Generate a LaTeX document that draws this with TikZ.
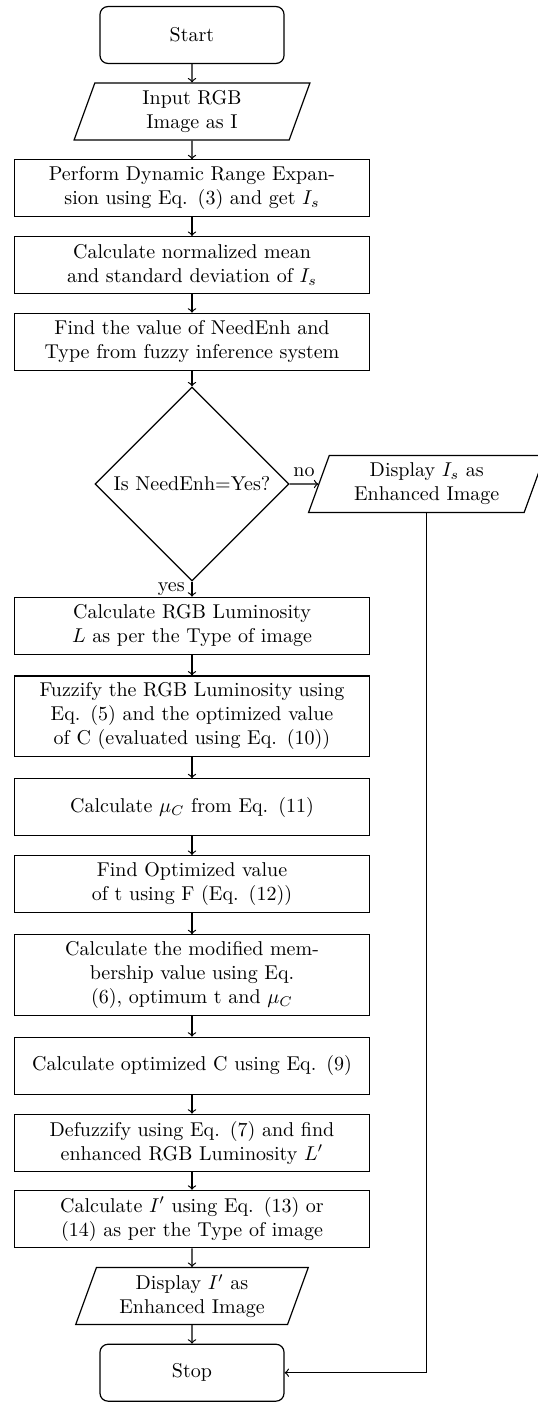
\documentclass[tikz,border=0pt]{standalone}
\usetikzlibrary{shapes.geometric}
\begin{document}
\begin{tikzpicture}[x=0.5pt,y=-0.5pt, semithick,
  procbox/.style={draw, rectangle, text width=6cm, minimum height=1cm, align=center},
  termbox/.style={draw, rectangle, rounded corners, text width=3cm, minimum height=1cm, align=center},
  iobox/.style={draw, trapezium, trapezium left angle=70, trapezium right angle=110,
                text width=3.1cm, minimum height=1cm, align=center},
  decbox/.style={draw, diamond, aspect=1, inner sep=2.9pt},
  flow/.style={->}]
\useasboundingbox (0,0) rectangle (537,1402);

% main column
\node[termbox] (start) at (192,35) {Start};
\node[iobox]   (inp)   at (192,111.5) {Input RGB\\Image as I};
\node[procbox] (dre)   at (192,188.3) {Perform Dynamic Range Expan-\\sion using Eq. (3) and get $I_s$};
\node[procbox] (msd)   at (192,265) {Calculate normalized mean\\and standard deviation of $I_s$};
\node[procbox] (fis)   at (192,341.7) {Find the value of NeedEnh and\\Type from fuzzy inference system};
\node[decbox]  (dec)   at (192,484) {Is NeedEnh=Yes?};
\node[iobox]   (dis)   at (426.7,484) {Display $I_s$ as\\Enhanced Image};
\node[procbox] (lum)   at (192,625.7) {Calculate RGB Luminosity\\$L$ as per the Type of image};
\node[procbox] (fuz)   at (192,716.3) {Fuzzify the RGB Luminosity using\\Eq. (5) and the optimized value\\of C (evaluated using Eq. (10))};
\node[procbox] (muc)   at (192,807.3) {Calculate $\mu_C$ from Eq. (11)};
\node[procbox] (opt)   at (192,884) {Find Optimized value\\of t using F (Eq. (12))};
\node[procbox] (mod)   at (192,975) {Calculate the modified mem-\\bership value using Eq.\\(6), optimum t and $\mu_C$};
\node[procbox] (optc)  at (192,1065.7) {Calculate optimized C using Eq. (9)};
\node[procbox] (defz)  at (192,1142.7) {Defuzzify using Eq. (7) and find\\enhanced RGB Luminosity $L'$};
\node[procbox] (outi)  at (192,1219) {Calculate $I'$ using Eq. (13) or\\(14) as per the Type of image};
\node[iobox]   (disp)  at (192,1296) {Display $I'$ as\\Enhanced Image};
\node[termbox] (stop)  at (192,1372.7) {Stop};

% connectors
\draw[flow] (start.south) -- (inp.north);
\draw[flow] (inp.south) -- (dre.north);
\draw[flow] (dre.south) -- (msd.north);
\draw[flow] (msd.south) -- (fis.north);
\draw[flow] (fis.south) -- (dec.north);
\draw[flow] (dec.east) -- node[above] {no} (dis.west);
\draw[flow] (dec.south) -- node[left] {yes} (lum.north);
\draw[flow] (lum.south) -- (fuz.north);
\draw[flow] (fuz.south) -- (muc.north);
\draw[flow] (muc.south) -- (opt.north);
\draw[flow] (opt.south) -- (mod.north);
\draw[flow] (mod.south) -- (optc.north);
\draw[flow] (optc.south) -- (defz.north);
\draw[flow] (defz.south) -- (outi.north);
\draw[flow] (outi.south) -- (disp.north);
\draw[flow] (disp.south) -- (stop.north);
\draw[flow] (dis.south) |- (stop.east);
\end{tikzpicture}
\end{document}
